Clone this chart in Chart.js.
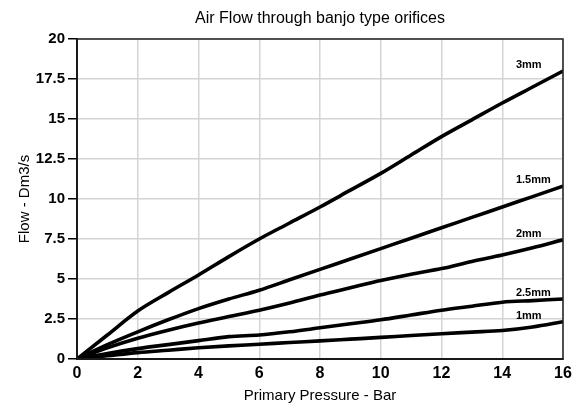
<!DOCTYPE html>
<html>
<head>
<meta charset="utf-8">
<script src="https://cdn.jsdelivr.net/npm/chart.js@4.4.1/dist/chart.umd.min.js"></script>
<style>
  html, body { margin: 0; padding: 0; background: #fff; }
  #wrap { width: 587px; height: 405px; }
</style>
</head>
<body>
<div id="wrap"><canvas id="flowChart"></canvas></div>
<script>
// 압력 (bar)
const pressure = [0, 1, 2, 3, 4, 5, 6, 7, 8, 9, 10, 11, 12, 13, 14, 15, 16];

// 오리피스별 유량 (Dm3/s)
const flow3mm  = [0, 1.5, 3.0, 4.15, 5.25, 6.4, 7.5, 8.5, 9.5, 10.55, 11.6, 12.75, 13.9, 14.95, 16.0, 17.0, 18.0];
const flow15mm = [0, 0.9, 1.7, 2.45, 3.15, 3.75, 4.3, 4.95, 5.6, 6.25, 6.9, 7.55, 8.2, 8.85, 9.5, 10.15, 10.8];
const flow2mm  = [0, 0.7, 1.3, 1.8, 2.25, 2.65, 3.05, 3.5, 4.0, 4.45, 4.9, 5.3, 5.65, 6.1, 6.5, 6.95, 7.45];
const flow25mm = [0, 0.35, 0.65, 0.9, 1.15, 1.4, 1.5, 1.7, 1.95, 2.2, 2.45, 2.75, 3.05, 3.3, 3.55, 3.65, 3.75];
const flow1mm  = [0, 0.2, 0.4, 0.55, 0.7, 0.82, 0.92, 1.03, 1.13, 1.24, 1.35, 1.47, 1.58, 1.68, 1.78, 2.0, 2.33];

const seriesNames = ['3mm', '1.5mm', '2mm', '2.5mm', '1mm'];
const seriesValues = [flow3mm, flow15mm, flow2mm, flow25mm, flow1mm];

// 눈금
const xTicks = [0, 2, 4, 6, 8, 10, 12, 14, 16];
const yTicks = [0, 2.5, 5, 7.5, 10, 12.5, 15, 17.5, 20];

const chartTitle = 'Air Flow through banjo type orifices';
const sans = "'Liberation Sans', Arial, sans-serif";

// 제목: 플롯 영역 가운데 위
const plotTitle = {
    id: 'plotTitle',
    afterDraw(chart) {
        const { ctx, chartArea: a } = chart;
        ctx.save();
        ctx.font = '16px ' + sans;
        ctx.fillStyle = '#000';
        ctx.textAlign = 'center';
        ctx.textBaseline = 'middle';
        ctx.fillText(chartTitle, (a.left + a.right) / 2, 19);
        ctx.restore();
    }
};

// 선 끝 위에 이름 표시
const lineLabels = {
    id: 'lineLabels',
    afterDatasetsDraw(chart) {
        const ctx = chart.ctx;
        const xs = chart.scales.x;
        ctx.save();
        ctx.font = 'bold 11px ' + sans;
        ctx.fillStyle = '#000';
        ctx.textAlign = 'left';
        ctx.textBaseline = 'middle';
        chart.data.datasets.forEach((ds, i) => {
            const pts = chart.getDatasetMeta(i).data;
            const last = pts[pts.length - 1];
            ctx.fillText(ds.label, xs.getPixelForValue(14.45), last.y - 6);
        });
        ctx.restore();
    }
};

// 차트 영역 테두리
const frame = {
    id: 'frame',
    afterDatasetsDraw(chart) {
        const { ctx, chartArea: a } = chart;
        ctx.save();
        ctx.strokeStyle = '#222';
        ctx.lineWidth = 1.5;
        ctx.strokeRect(a.left, a.top, a.right - a.left, a.bottom - a.top);
        ctx.restore();
    }
};

document.addEventListener('DOMContentLoaded', function() {
    const ctx = document.getElementById('flowChart').getContext('2d');
    new Chart(ctx, {
        type: 'line',
        data: {
            datasets: seriesNames.map((name, i) => ({
                label: name,
                data: pressure.map((p, j) => ({ x: p, y: seriesValues[i][j] })),
                borderColor: '#000',
                borderWidth: 3.6,
                pointRadius: 0,
                fill: false,
                cubicInterpolationMode: 'monotone'
            }))
        },
        options: {
            responsive: true,
            maintainAspectRatio: false,
            animation: false,
            layout: { padding: { left: 0, right: 24, top: 39, bottom: 0 } },
            plugins: {
                legend: { display: false },
                tooltip: { enabled: false },
                title: { display: false }
            },
            scales: {
                x: {
                    type: 'linear',
                    min: 0,
                    max: 16,
                    afterBuildTicks: axis => { axis.ticks = xTicks.map(v => ({ value: v })); },
                    afterFit: axis => { axis.height = 46; },
                    grid: { color: '#d4d4d4', lineWidth: 1.5, drawTicks: false },
                    border: { color: '#000', width: 2 },
                    ticks: {
                        color: '#000',
                        padding: 5,
                        maxRotation: 0,
                        font: { family: sans, size: 16, weight: 'bold' }
                    },
                    title: {
                        display: true,
                        text: 'Primary Pressure - Bar',
                        color: '#000',
                        font: { family: sans, size: 15, weight: 'normal' },
                        padding: { top: 0, bottom: 0 }
                    }
                },
                y: {
                    min: 0,
                    max: 20,
                    afterBuildTicks: axis => { axis.ticks = yTicks.map(v => ({ value: v })); },
                    afterFit: axis => { axis.width = 77; },
                    grid: { color: '#d4d4d4', lineWidth: 1.5, tickColor: '#000', tickLength: 9 },
                    border: { color: '#000', width: 2 },
                    ticks: {
                        color: '#000',
                        padding: 3,
                        callback: v => String(v),
                        font: { family: sans, size: 15, weight: 'bold' }
                    },
                    title: {
                        display: true,
                        text: 'Flow - Dm3/s',
                        color: '#000',
                        font: { family: sans, size: 15, weight: 'normal' },
                        padding: { top: 16, bottom: 0 }
                    }
                }
            }
        },
        plugins: [lineLabels, frame, plotTitle]
    });
});
</script>
</body>
</html>
